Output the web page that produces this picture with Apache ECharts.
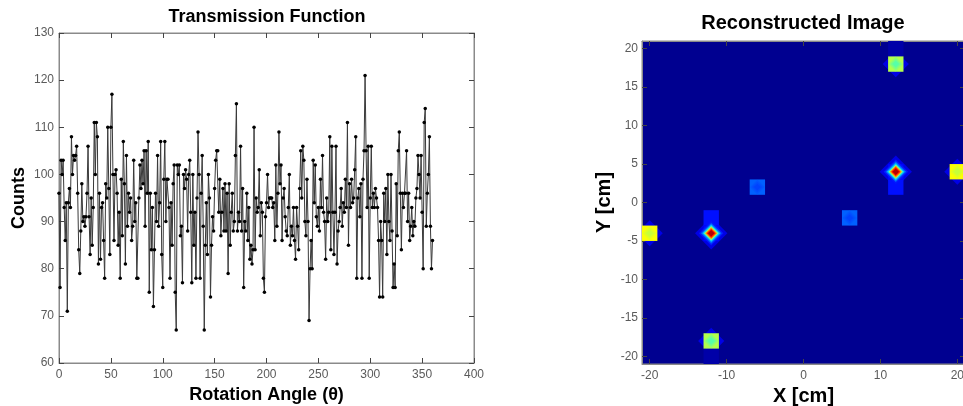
<!DOCTYPE html>
<html><head><meta charset="utf-8">
<script src="https://cdn.jsdelivr.net/npm/echarts@6/dist/echarts.min.js"></script>
<style>html,body{margin:0;padding:0;background:#fff}#c{width:963px;height:406px}</style>
</head><body><div id="c"></div>
<script>
// ---------- Transmission function (counts per degree) ----------
const angleStart = 0;
const angleStep = 1;
const counts = [
 96,76,103,100,103,93,86,94,71,94, 97,93,108,100,104,103,104,106,96,84,
 79,88,98,90,91,89,91,96,106,91, 83,95,85,93,111,100,111,108,81,96,
 82,93,94,86,78,98,95,110,97,83, 110,117,100,86,100,101,96,85,92,78,
 99,87,107,98,81,104,89,96,92,95, 86,89,103,90,94,78,78,95,102,97,
 103,98,105,89,105,96,107,75,96,84, 93,72,84,96,90,104,89,94,107,83,
 76,99,107,90,99,99,93,78,94,85, 98,102,75,67,102,100,102,87,89,77,
 100,97,101,99,88,100,103,92,77,100, 85,92,78,95,109,100,78,96,104,89,
 67,85,94,83,100,95,74,85,91,88, 97,103,105,105,92,99,87,92,97,88,
 98,88,96,79,98,85,92,96,88,90, 104,115,88,92,90,106,88,97,76,90,
 88,96,86,93,82,85,81,84,110,84, 95,92,93,101,87,94,92,78,75,91,
 94,100,93,95,95,95,93,94,86,102, 89,96,109,98,102,86,95,97,91,88,
 87,93,100,85,89,87,93,86,82,93, 89,84,97,105,95,106,103,90,87,99,
 90,69,80,86,80,103,94,102,91,89, 93,88,99,93,104,92,90,82,95,90,
 92,108,84,106,92,83,92,106,81,88, 90,93,97,89,94,92,99,93,111,85,
 98,93,99,94,95,101,108,78,95,97, 91,98,78,99,105,121,105,93,106,78,
 95,106,93,96,93,97,95,93,86,74, 90,86,74,96,90,97,83,100,90,86,
 100,88,76,81,76,98,87,105,109,96, 84,96,93,96,96,105,90,96,86,89,
 93,87,90,89,95,97,104,100,95,104, 92,80,111,114,89,96,100,108,89,80,
 86
];
const angleTicks = [0, 50, 100, 150, 200, 250, 300, 350, 400];
const countTicks = [60, 70, 80, 90, 100, 110, 120, 130];

// ---------- Reconstructed image (2 cm cells, jet-colormap levels 0..1) ----------
const imageXTickLabels = [-20, -10, 0, 10, 20];
const imageYTickLabels = [-20, -15, -10, -5, 0, 5, 10, 15, 20];
const cellX     = [-12, 12, -6, 6, 12, -12, -20, 20, 12, -12, -12, 12];
const cellY     = [-2, 2, 2, -2, 20, -20, -4, 4, 18, -18, -4, 4];
const cellLevel = [0.14, 0.14, 0.22, 0.22, 0.04, 0.04, 0.62, 0.62, 0.55, 0.55, 0.13, 0.13];
const cellPeak  = [0.14, 0.14, 0.19, 0.19, 0.04, 0.04, 0.57, 0.57, 0.46, 0.46, 0.95, 0.95];

function jet(v){
  const c = x => Math.round(255 * Math.max(0, Math.min(1, x)));
  return 'rgb(' + c(Math.min(4*v-1.5, -4*v+4.5)) + ',' + c(Math.min(4*v-0.5, -4*v+3.5)) + ',' + c(Math.min(4*v+0.5, -4*v+2.5)) + ')';
}

const lineData = counts.map((c, i) => [angleStart + i * angleStep, c]);
const cellData = cellX.map((x, i) => [x, cellY[i], cellLevel[i], cellPeak[i]]);

const FONT = 'Liberation Sans, Arial, sans-serif';
const labelGrey = '#5a5a5a';
const lineGrey = '#8a8a8a';

const chart = echarts.init(document.getElementById('c'), null, {renderer: 'canvas'});

function boxAxis(gridIndex, pos, min, max, extra){
  return Object.assign({
    gridIndex, type: 'value', position: pos, min, max,
    axisLine: {show: true, onZero: false, lineStyle: {color: lineGrey, width: 1}},
    axisTick: {show: true, inside: true, length: 5, lineStyle: {color: '#444'}},
    axisLabel: {show: false},
    splitLine: {show: false}
  }, extra || {});
}

const option = {
  animation: false,
  backgroundColor: '#fff',
  title: [
    {text: 'Transmission Function', left: 267, top: 8, textAlign: 'center', padding: 0,
     textStyle: {fontFamily: FONT, fontSize: 18, fontWeight: 'bold', color: '#000'}},
    {text: 'Reconstructed Image', left: 803, top: 13, textAlign: 'center', padding: 0,
     textStyle: {fontFamily: FONT, fontSize: 20, fontWeight: 'bold', color: '#000'}}
  ],
  grid: [
    {left: 59, top: 33, width: 415, height: 330, show: true, backgroundColor: '#fff', borderColor: lineGrey, borderWidth: 1, outerBoundsMode: 'none', containLabel: false},
    {left: 642, top: 41, width: 323, height: 323, show: true, backgroundColor: jet(0.016), borderColor: lineGrey, borderWidth: 1, outerBoundsMode: 'none', containLabel: false}
  ],
  xAxis: [
    boxAxis(0, 'bottom', 0, 400, {
      interval: 50,
      axisLabel: {show: true, color: labelGrey, fontFamily: FONT, fontSize: 12, margin: 6,
                  customValues: angleTicks},
      name: 'Rotation Angle (\u03b8)', nameLocation: 'middle', nameGap: 22,
      nameTextStyle: {fontFamily: FONT, fontSize: 18, fontWeight: 'bold', color: '#000'}
    }),
    boxAxis(0, 'top', 0, 400, {interval: 50}),
    boxAxis(1, 'bottom', -21, 21, {
      axisTick: {show: true, inside: true, length: 5, lineStyle: {color: '#444'}, customValues: imageXTickLabels},
      axisLabel: {show: true, color: labelGrey, fontFamily: FONT, fontSize: 12, margin: 6, customValues: imageXTickLabels},
      name: 'X [cm]', nameLocation: 'middle', nameGap: 22,
      nameTextStyle: {fontFamily: FONT, fontSize: 20, fontWeight: 'bold', color: '#000'}
    }),
    boxAxis(1, 'top', -21, 21, {
      axisTick: {show: true, inside: true, length: 5, lineStyle: {color: '#444'}, customValues: imageXTickLabels}
    })
  ],
  yAxis: [
    boxAxis(0, 'left', 60, 130, {
      interval: 10,
      axisLabel: {show: true, color: labelGrey, fontFamily: FONT, fontSize: 12, margin: 5},
      name: 'Counts', nameLocation: 'middle', nameGap: 31,
      nameTextStyle: {fontFamily: FONT, fontSize: 18, fontWeight: 'bold', color: '#000'}
    }),
    boxAxis(0, 'right', 60, 130, {interval: 10}),
    boxAxis(1, 'left', -21, 21, {
      axisTick: {show: true, inside: true, length: 5, lineStyle: {color: '#444'}, customValues: imageYTickLabels},
      axisLabel: {show: true, color: labelGrey, fontFamily: FONT, fontSize: 12, margin: 4, customValues: imageYTickLabels},
      name: 'Y [cm]', nameLocation: 'middle', nameGap: 28,
      nameTextStyle: {fontFamily: FONT, fontSize: 20, fontWeight: 'bold', color: '#000'}
    }),
    boxAxis(1, 'right', -21, 21, {
      axisTick: {show: true, inside: true, length: 5, lineStyle: {color: '#444'}, customValues: imageYTickLabels}
    })
  ],
  series: [
    {
      type: 'line', xAxisIndex: 0, yAxisIndex: 0, data: lineData,
      symbol: 'circle', symbolSize: 3.5, showSymbol: true,
      lineStyle: {color: '#3a3a3a', width: 1},
      itemStyle: {color: '#000', borderWidth: 0},
      silent: true
    },
    {
      type: 'custom', xAxisIndex: 2, yAxisIndex: 2, data: cellData, clip: true, silent: true,
      renderItem: function(params, api){
        const x = api.value(0), y = api.value(1), lv = api.value(2), pk = api.value(3);
        const P = (a, b) => api.coord([a, b]);
        const diamond = (r, v, z) => ({
          type: 'polygon', z2: z,
          shape: {points: [P(x, y + r), P(x + r, y), P(x, y - r), P(x - r, y)]},
          style: {fill: jet(v)}
        });
        const children = [];
        const hot = pk >= 0.8, bright = lv >= 0.4;
        if (hot || bright) children.push(diamond(hot ? 2.1 : 1.7, 0.1, 0));
        const a = P(x - 1, y + 1), b = P(x + 1, y - 1);
        children.push({type: 'rect', z2: 1,
          shape: {x: a[0], y: a[1], width: b[0] - a[0], height: b[1] - a[1]},
          style: {fill: jet(lv)}});
        if (hot) {
          const radii = [1.6, 1.35, 1.15, 0.95, 0.78, 0.6, 0.42];
          const levels = [0.15, 0.22, 0.32, 0.5, 0.72, 0.85, 0.95];
          radii.forEach((r, k) => children.push(diamond(r, Math.min(levels[k], pk), 2 + k)));
        } else if (pk !== lv) {
          const radii = [0.95, 0.7, 0.45];
          radii.forEach((r, k) => children.push(diamond(r, lv + (pk - lv) * (k + 1) / radii.length, 2 + k)));
        }
        return {type: 'group', children};
      }
    }
  ]
};
chart.setOption(option);
</script>
</body></html>
